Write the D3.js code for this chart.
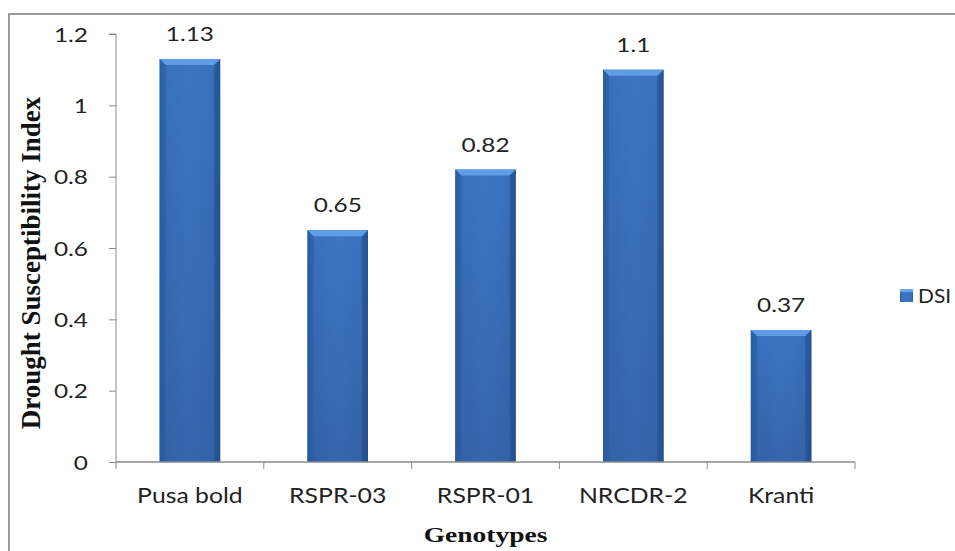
<!DOCTYPE html>
<html><head><meta charset="utf-8">
<script src="https://cdn.jsdelivr.net/npm/d3@7"></script>
<style>body{margin:0;background:#fff;}svg{display:block;}</style>
</head><body><svg id="c" width="955" height="551"></svg>
<script>
const categories = ["Pusa bold","RSPR-03","RSPR-01","NRCDR-2","Kranti"];
const dsiValues = [1.13,0.65,0.82,1.1,0.37];
const yTicks = [0,0.2,0.4,0.6,0.8,1,1.2];
const seriesName = "DSI";

const svg = d3.select("#c");
const m = {l:116, r:855, t:34, b:462};
const font = "Lato, 'Open Sans', sans-serif";
const serif = "'Liberation Serif','Times New Roman',serif";
const SX = 1.25;

// frame
svg.append("rect").attr("x",9).attr("y",14).attr("width",1000).attr("height",600)
  .attr("fill","none").attr("stroke","#7a7a7a").attr("stroke-width",1.5);

const defs = svg.append("defs");
const g1 = defs.append("linearGradient").attr("id","barg").attr("x1","0").attr("x2","1").attr("y1","0").attr("y2","0");
g1.append("stop").attr("offset","0").attr("stop-color","#2a5a9e");
g1.append("stop").attr("offset","0.12").attr("stop-color","#3a70bd");
g1.append("stop").attr("offset","0.5").attr("stop-color","#3d75c3");
g1.append("stop").attr("offset","0.88").attr("stop-color","#3a70bd");
g1.append("stop").attr("offset","1").attr("stop-color","#2a5a9e");
const g2 = defs.append("linearGradient").attr("id","barv").attr("x1","0").attr("x2","0").attr("y1","0").attr("y2","1");
g2.append("stop").attr("offset","0").attr("stop-color","#000").attr("stop-opacity",0);
g2.append("stop").attr("offset","1").attr("stop-color","#000").attr("stop-opacity",0.12);

const x = d3.scaleBand().domain(categories).range([m.l,m.r]).paddingInner(0.59).paddingOuter(0.295);
const xc = d3.scaleBand().domain(categories).range([m.l,m.r]);
const y = d3.scaleLinear().domain([0,1.2]).range([m.b,m.t]);

function stext(sel, px, py, s, size, anchor, fam, weight){
  return sel.append("text").attr("transform",`translate(${px},${py}) scale(${s},1)`)
    .attr("text-anchor",anchor||"middle").attr("font-family",fam||font)
    .attr("font-weight",weight||"normal").attr("font-size",size).attr("fill","#222");
}

// bars
const bars = svg.append("g").selectAll("g").data(dsiValues).join("g");
bars.append("rect")
  .attr("x",(d,i)=>x(categories[i])).attr("y",d=>y(d))
  .attr("width",x.bandwidth()).attr("height",d=>m.b-y(d))
  .attr("fill","url(#barg)");
bars.append("rect")
  .attr("x",(d,i)=>x(categories[i])).attr("y",d=>y(d))
  .attr("width",x.bandwidth()).attr("height",d=>m.b-y(d))
  .attr("fill","url(#barv)");
bars.append("path").attr("d",(d,i)=>{
  const x0=x(categories[i]), w=x.bandwidth(), t=y(d), h=6;
  return `M${x0},${t}L${x0+w},${t}L${x0+w-h},${t+h}L${x0+h},${t+h}Z`;
}).attr("fill","#5f9de8");
bars.append("path").attr("d",(d,i)=>{
  const x0=x(categories[i]), w=x.bandwidth(), t=y(d), h=6;
  return `M${x0},${t}L${x0+h},${t+h}L${x0+h},${m.b}L${x0},${m.b}Z`;
}).attr("fill","#2c5fa6").attr("opacity",0.6);
bars.append("path").attr("d",(d,i)=>{
  const x0=x(categories[i]), w=x.bandwidth(), t=y(d), h=6;
  return `M${x0+w},${t}L${x0+w-h},${t+h}L${x0+w-h},${m.b}L${x0+w},${m.b}Z`;
}).attr("fill","#24508f").attr("opacity",0.6);
bars.each(function(d,i){
  stext(d3.select(this), x(categories[i])+x.bandwidth()/2, y(d)-18, SX, 19.5).text(d);
});

// y axis
const ya = svg.append("g").attr("transform",`translate(${m.l},0)`)
  .call(d3.axisLeft(y).tickValues(yTicks).tickSize(7).tickPadding(28).tickFormat(d=>d3.format("~g")(d)));
ya.select(".domain").attr("stroke","#8a8a8a").attr("d",`M-7,${m.t}H0V${m.b}`);
ya.selectAll(".tick line").attr("stroke","#8a8a8a");
ya.selectAll(".tick text").remove();
ya.selectAll(".tick").each(function(d){
  stext(d3.select(this), -28, 7, SX, 19.5, "end").text(d3.format("~g")(d));
});

// x axis
const xa = svg.append("g").attr("transform",`translate(0,${m.b})`)
  .call(d3.axisBottom(xc).tickSize(0).tickPadding(22));
xa.select(".domain").attr("stroke","#8a8a8a").attr("stroke-width",1.5).attr("d",`M${m.l},0H${m.r}`);
xa.selectAll(".tick text").remove();
xa.selectAll(".tick").each(function(d){
  stext(d3.select(this), 0, 41, 1.18, 21).text(d);
});
xa.append("g").selectAll("line").data(d3.range(categories.length+1)).join("line")
  .attr("x1",i=>m.l+i*xc.step()).attr("x2",i=>m.l+i*xc.step()).attr("y1",0).attr("y2",7)
  .attr("stroke","#8a8a8a");

// titles
stext(svg, (m.l+m.r)/2, 542, 1.25, 22, "middle", serif, "bold").attr("fill","#111").text("Genotypes");
svg.append("text").attr("transform","translate(40,263) rotate(-90)").attr("text-anchor","middle")
  .attr("font-family",serif).attr("font-weight","bold")
  .attr("font-size",27).attr("fill","#111").text("Drought Susceptibility Index");

// legend
svg.append("rect").attr("x",900).attr("y",289).attr("width",13).attr("height",13).attr("fill","url(#barg)");
svg.append("rect").attr("x",900).attr("y",289).attr("width",13).attr("height",3).attr("fill","#6aa4ea");
stext(svg, 918, 303, 1.1, 19, "start").text(seriesName);
</script></body></html>
